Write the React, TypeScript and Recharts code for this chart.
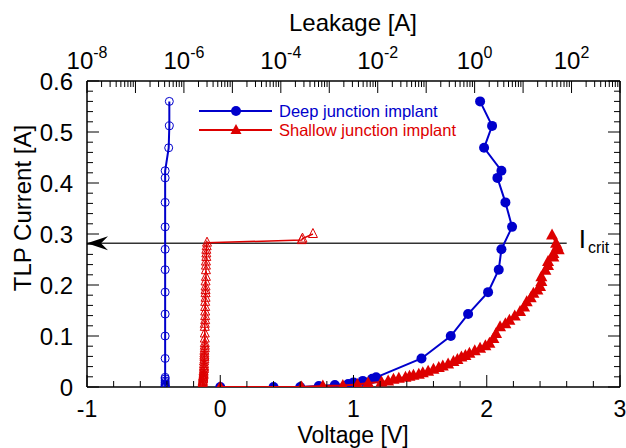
import {
  ComposedChart,
  Customized,
  ReferenceDot,
  ReferenceLine,
  Scatter,
  XAxis,
  YAxis
} from "recharts";

const BLUE = "#0000cc";
const RED = "#dd0000";
const FONT = "'Liberation Sans', Arial, sans-serif";

// Deep junction implant: TLP current vs voltage (filled) and vs leakage (open)
const deepCurrent = [0, 0, 0, 0.002, 0.004, 0.006, 0.009, 0.012, 0.016, 0.019, 0.056, 0.1, 0.143, 0.186, 0.23, 0.27, 0.314, 0.362, 0.41, 0.424, 0.469, 0.512, 0.56];
const deepVoltage = [0, 0.4, 0.6, 0.74, 0.86, 0.96, 1.0, 1.07, 1.14, 1.17, 1.51, 1.73, 1.86, 2.01, 2.09, 2.11, 2.19, 2.14, 2.08, 2.11, 1.98, 2.04, 1.95];
const deepLeakage = [
  4.1e-7, 4.1e-7, 4.1e-7, 4.1e-7, 4.1e-7, 4.1e-7, 4.1e-7, 4.1e-7, 4.1e-7, 4.1e-7,
  4.1e-7, 4.1e-7, 4.1e-7, 4.1e-7, 4.1e-7, 4.1e-7, 4.1e-7, 4.1e-7, 4.1e-7, 4.1e-7,
  4.85e-7, 5.0e-7, 5.0e-7
];

// Shallow junction implant
const shallowCurrent = [
  0, 0, 0.002, 0.003, 0.005, 0.008, 0.01, 0.012, 0.015, 0.017,
  0.019, 0.021, 0.023, 0.025, 0.028, 0.031, 0.035, 0.038, 0.041, 0.045,
  0.05, 0.054, 0.059, 0.062, 0.066, 0.071, 0.076, 0.081, 0.086, 0.095,
  0.105, 0.118, 0.124, 0.131, 0.139, 0.148, 0.157, 0.167, 0.175, 0.184,
  0.19, 0.197, 0.207, 0.216, 0.229, 0.238, 0.246, 0.255, 0.262, 0.269,
  0.276, 0.282, 0.298
];
const shallowVoltage = [
  0, 0.61, 0.77, 0.92, 1.03, 1.11, 1.21, 1.26, 1.3, 1.34,
  1.39, 1.42, 1.45, 1.49, 1.52, 1.56, 1.6, 1.64, 1.67, 1.71,
  1.75, 1.78, 1.81, 1.84, 1.87, 1.91, 1.95, 1.99, 2.02, 2.05,
  2.07, 2.1, 2.14, 2.17, 2.21, 2.25, 2.28, 2.3, 2.33, 2.35,
  2.38, 2.4, 2.41, 2.41, 2.44, 2.46, 2.46, 2.5, 2.5, 2.54,
  2.53, 2.52, 2.49
];
const shallowLeakCurrent = [
  0, 0, 0.002, 0.003, 0.005, 0.008, 0.01, 0.012, 0.015, 0.017,
  0.019, 0.021, 0.023, 0.025, 0.028, 0.031, 0.035, 0.038, 0.041, 0.045,
  0.05, 0.054, 0.059, 0.062, 0.066, 0.071, 0.076, 0.081, 0.086, 0.095,
  0.105, 0.118, 0.124, 0.131, 0.139, 0.148, 0.157, 0.167, 0.175, 0.184,
  0.19, 0.197, 0.207, 0.216, 0.229, 0.238, 0.246, 0.255, 0.262, 0.269,
  0.276, 0.283, 0.288, 0.291, 0.3
];
const shallowLeakage = [
  2.35e-6, 2.35e-6, 2.4e-6, 2.4e-6, 2.4e-6, 2.45e-6, 2.45e-6, 2.45e-6, 2.5e-6, 2.5e-6,
  2.5e-6, 2.5e-6, 2.55e-6, 2.55e-6, 2.55e-6, 2.55e-6, 2.6e-6, 2.6e-6, 2.6e-6, 2.6e-6,
  2.6e-6, 2.65e-6, 2.65e-6, 2.65e-6, 2.65e-6, 2.65e-6, 2.7e-6, 2.7e-6, 2.7e-6, 2.7e-6,
  2.7e-6, 2.7e-6, 2.7e-6, 2.75e-6, 2.75e-6, 2.75e-6, 2.75e-6, 2.75e-6, 2.8e-6, 2.8e-6,
  2.8e-6, 2.8e-6, 2.8e-6, 2.85e-6, 2.85e-6, 2.85e-6, 2.85e-6, 2.9e-6, 2.9e-6, 2.9e-6,
  2.95e-6, 3.0e-6, 2.7e-4, 2.8e-4, 4.6e-4
];

const critCurrent = 0.282;
const critEndVoltage = 2.6;

const voltageLabels = ["-1", "0", "1", "2", "3"];
const currentLabels = ["0", "0.1", "0.2", "0.3", "0.4", "0.5", "0.6"];
const leakageExponents = [-8, -6, -4, -2, 0, 2];

const voltageTicks = Array.from({ length: 21 }, (_, k) => Number((-1 + k * 0.2).toFixed(1)));
const currentTicks = Array.from({ length: 31 }, (_, k) => Number((k * 0.02).toFixed(2)));
const leakageTicks: number[] = [];
for (let e = -8; e <= 3; e++) {
  for (let m = 1; m <= 9; m++) {
    if (e === 3 && m > 1) break;
    leakageTicks.push(m * Math.pow(10, e));
  }
}

const deepVData = deepVoltage.map((v, k) => ({ v, i: deepCurrent[k] }));
const deepLData = deepLeakage.map((leak, k) => ({ leak, i: deepCurrent[k] }));
const shallowVData = shallowVoltage.map((v, k) => ({ v, i: shallowCurrent[k] }));
const shallowLData = shallowLeakage.map((leak, k) => ({ leak, i: shallowLeakCurrent[k] }));

const PLOT_W = 533;
const TICK_FS = 24;

function BottomTick({ x, y, payload }: any) {
  const val = payload.value;
  const major = Math.abs(val - Math.round(val)) < 1e-6;
  const len = major ? 12 : 6;
  const idx = Math.round(val) + 1;
  return (
    <g>
      <line x1={x} x2={x} y1={y} y2={y - len} stroke="#000" strokeWidth={1} />
      {major && (
        <text x={x} y={y + 30} textAnchor="middle" fontSize={23} fontFamily={FONT} fill="#000">
          {voltageLabels[idx]}
        </text>
      )}
    </g>
  );
}

function LeftTick({ x, y, payload }: any) {
  const val = payload.value;
  const major = Math.abs(val * 10 - Math.round(val * 10)) < 1e-6;
  const len = major ? 12 : 6;
  return (
    <g>
      <line x1={x} x2={x + len} y1={y} y2={y} stroke="#000" strokeWidth={1} />
      <line x1={x + PLOT_W} x2={x + PLOT_W - len} y1={y} y2={y} stroke="#000" strokeWidth={1} />
      {major && (
        <text x={x - 14} y={y + 9} textAnchor="end" fontSize={TICK_FS} fontFamily={FONT} fill="#000">
          {currentLabels[Math.round(val * 10)]}
        </text>
      )}
    </g>
  );
}

function TopTick({ x, y, payload }: any) {
  const exp = Math.log10(payload.value);
  const major = Math.abs(exp - Math.round(exp)) < 1e-6;
  const len = major ? 12 : 6;
  const e = Math.round(exp);
  const labelled = major && leakageExponents.includes(e);
  return (
    <g>
      <line x1={x} x2={x} y1={y} y2={y + len} stroke="#000" strokeWidth={1} />
      {labelled && (
        <text x={x} y={y - 12} textAnchor="middle" fontSize={TICK_FS} fontFamily={FONT} fill="#000">
          <tspan>10</tspan>
          <tspan dy={-11} fontSize={16}>{String(e)}</tspan>
        </text>
      )}
    </g>
  );
}

const FilledCircle = (p: any) => <circle cx={p.cx} cy={p.cy} r={5} fill={BLUE} />;
const OpenCircle = (p: any) => (
  <circle cx={p.cx} cy={p.cy} r={4} fill="none" stroke={BLUE} strokeWidth={1} />
);
const FilledTriangle = (p: any) => (
  <polygon
    points={`${p.cx},${p.cy - 6.5} ${p.cx - 6},${p.cy + 4.5} ${p.cx + 6},${p.cy + 4.5}`}
    fill={RED}
  />
);
const OpenTriangle = (p: any) => (
  <polygon
    points={`${p.cx},${p.cy - 5.5} ${p.cx - 4.5},${p.cy + 3.5} ${p.cx + 4.5},${p.cy + 3.5}`}
    fill="none"
    stroke={RED}
    strokeWidth={1}
  />
);

const ArrowHead = (p: any) => (
  <polygon
    points={`${p.cx},${p.cy} ${p.cx + 21},${p.cy - 7} ${p.cx + 14},${p.cy} ${p.cx + 21},${p.cy + 7}`}
    fill="#000"
  />
);

const CritLabel = (p: any) => (
  <text x={p.cx + 12} y={p.cy + 5} fontFamily={FONT} fill="#000">
    <tspan fontSize={26}>I</tspan>
    <tspan fontSize={16} dy={5} dx={2}>crit</tspan>
  </text>
);

function Decorations() {
  return (
    <g fontFamily={FONT}>
      <text x={353} y={31} textAnchor="middle" fontSize={24} fill="#000">Leakage [A]</text>
      <text x={353} y={443} textAnchor="middle" fontSize={23} fill="#000">Voltage [V]</text>
      <text
        x={0}
        y={0}
        transform="translate(31,208) rotate(-90)"
        textAnchor="middle"
        fontSize={24}
        fill="#000"
      >
        TLP Current [A]
      </text>
      <line x1={199} x2={272} y1={111} y2={111} stroke={BLUE} strokeWidth={2} />
      <circle cx={236} cy={111} r={5} fill={BLUE} />
      <text x={279} y={117} fontSize={16.5} fill={BLUE}>Deep junction implant</text>
      <line x1={199} x2={272} y1={130} y2={130} stroke={RED} strokeWidth={2} />
      <polygon points="236,124 230.5,134 241.5,134" fill={RED} />
      <text x={279} y={136} fontSize={16.5} fill={RED}>Shallow junction implant</text>
    </g>
  );
}

export default function App() {
  return (
    <div style={{ width: 626, height: 448 }}>
      <style>{"body{margin:0}"}</style>
      <ComposedChart width={626} height={448} margin={{ top: 0, right: 6, bottom: 0, left: 0 }}>
        <XAxis
          xAxisId="v"
          dataKey="v"
          type="number"
          domain={[-1, 3]}
          allowDataOverflow
          ticks={voltageTicks}
          interval={0}
          height={61}
          tickSize={0}
          tickMargin={0}
          tickLine={false}
          tick={<BottomTick />}
          axisLine={{ stroke: "#000", strokeWidth: 1.5 }}
        />
        <XAxis
          xAxisId="leak"
          dataKey="leak"
          orientation="top"
          type="number"
          scale="log"
          domain={[1e-8, 1e3]}
          allowDataOverflow
          ticks={leakageTicks}
          interval={0}
          height={81}
          tickSize={0}
          tickMargin={0}
          tickLine={false}
          tick={<TopTick />}
          axisLine={{ stroke: "#000", strokeWidth: 1.5 }}
        />
        <YAxis
          yAxisId="i"
          dataKey="i"
          type="number"
          domain={[0, 0.6]}
          allowDataOverflow
          ticks={currentTicks}
          interval={0}
          width={87}
          tickSize={0}
          tickMargin={0}
          tickLine={false}
          tick={<LeftTick />}
          axisLine={{ stroke: "#000", strokeWidth: 1.5 }}
        />
        <ReferenceLine xAxisId="v" yAxisId="i" x={3} stroke="#000" strokeWidth={1.5} />
        <ReferenceLine
          xAxisId="v"
          yAxisId="i"
          segment={[
            { x: -1, y: critCurrent },
            { x: critEndVoltage, y: critCurrent }
          ]}
          stroke="#333"
          strokeWidth={1.5}
        />
        <ReferenceDot xAxisId="v" yAxisId="i" x={-1} y={critCurrent} r={0} shape={ArrowHead} ifOverflow="visible" />
        <ReferenceDot xAxisId="v" yAxisId="i" x={critEndVoltage} y={critCurrent} r={0} shape={CritLabel} ifOverflow="visible" />
        <Scatter
          xAxisId="leak"
          yAxisId="i"
          data={deepLData}
          line={{ stroke: BLUE, strokeWidth: 2 }}
          shape={OpenCircle}
          isAnimationActive={false}
        />
        <Scatter
          xAxisId="v"
          yAxisId="i"
          data={deepVData}
          line={{ stroke: BLUE, strokeWidth: 2 }}
          shape={FilledCircle}
          isAnimationActive={false}
        />
        <Scatter
          xAxisId="leak"
          yAxisId="i"
          data={shallowLData}
          line={{ stroke: RED, strokeWidth: 1.5 }}
          shape={OpenTriangle}
          isAnimationActive={false}
        />
        <Scatter
          xAxisId="v"
          yAxisId="i"
          data={shallowVData}
          line={{ stroke: RED, strokeWidth: 2 }}
          shape={FilledTriangle}
          isAnimationActive={false}
        />
        <Customized component={Decorations} />
      </ComposedChart>
    </div>
  );
}
